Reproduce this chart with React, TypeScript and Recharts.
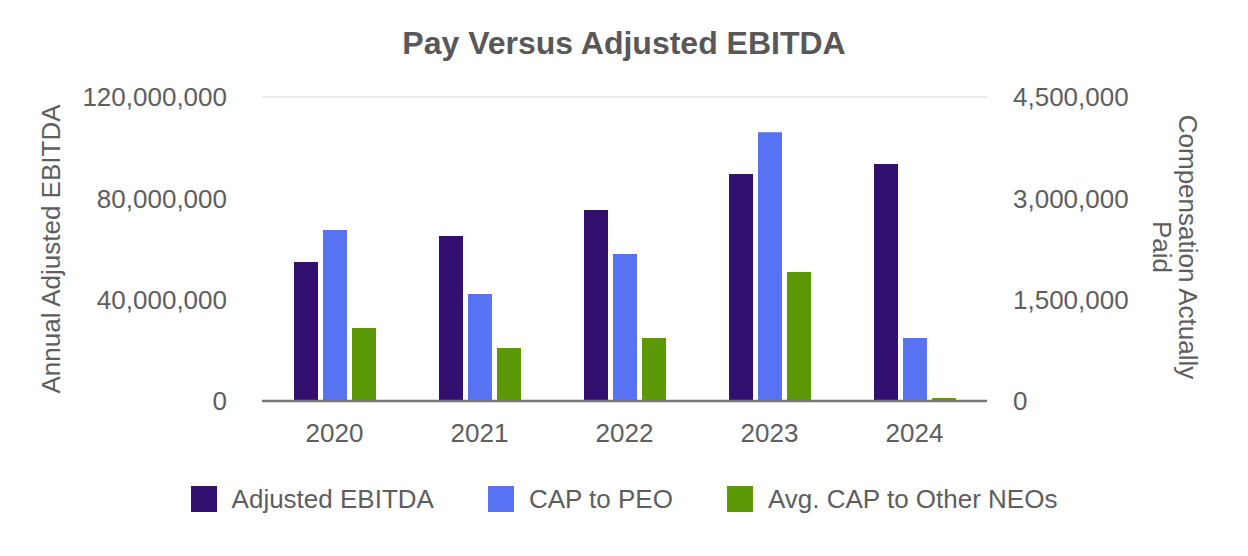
import { Bar, BarChart, CartesianGrid, XAxis, YAxis } from 'recharts'

const years = ['2020', '2021', '2022', '2023', '2024']
const adjustedEbitda = [54900000, 65100000, 75400000, 89600000, 93600000]
const capToPeo = [2530000, 1584000, 2176000, 3980000, 933000]
const avgCapOtherNeos = [1080000, 785000, 933000, 1910000, 44000]

const leftTicks = [0, 40000000, 80000000, 120000000]
const rightTicks = [0, 1500000, 3000000, 4500000]

const series = [
  { key: 'ebitda', name: 'Adjusted EBITDA', color: '#331070', axis: 'left' },
  { key: 'peo', name: 'CAP to PEO', color: '#5773f4', axis: 'right' },
  { key: 'neo', name: 'Avg. CAP to Other NEOs', color: '#5b9907', axis: 'right' },
]

const data = years.map((year, i) => ({
  year,
  ebitda: adjustedEbitda[i],
  peo: capToPeo[i],
  neo: avgCapOtherNeos[i],
}))

const FONT = '"Liberation Sans", Arial, sans-serif'
const TEXT = '#5e5e5e'
const fmt = (v: number) => v.toLocaleString('en-US')

const tickStyle = { fill: TEXT, fontSize: 26, fontFamily: FONT }

function LeftLabel({ viewBox }: { viewBox?: { x: number; y: number; width: number; height: number } }) {
  if (!viewBox) return null
  const cx = 51
  const cy = viewBox.y + viewBox.height / 2
  return (
    <text
      x={cx}
      y={cy}
      transform={`rotate(-90 ${cx} ${cy})`}
      textAnchor="middle"
      dominantBaseline="central"
      fill={TEXT}
      fontSize={26}
      fontFamily={FONT}
    >
      Annual Adjusted EBITDA
    </text>
  )
}

function RightLabel({ viewBox }: { viewBox?: { x: number; y: number; width: number; height: number } }) {
  if (!viewBox) return null
  const cy = viewBox.y + viewBox.height / 2 - 2
  const lines = [
    { x: 1188, text: 'Compensation Actually' },
    { x: 1162, text: 'Paid' },
  ]
  return (
    <g>
      {lines.map((l) => (
        <text
          key={l.text}
          x={l.x}
          y={cy}
          transform={`rotate(90 ${l.x} ${cy})`}
          textAnchor="middle"
          dominantBaseline="central"
          fill={TEXT}
          fontSize={26}
          fontFamily={FONT}
        >
          {l.text}
        </text>
      ))}
    </g>
  )
}

export default function App() {
  return (
    <div style={{ position: 'absolute', left: 0, top: 0, width: 1248, height: 556, background: '#fff', fontFamily: FONT }}>
      <div
        style={{
          position: 'absolute',
          top: 27,
          left: 0,
          width: 1248,
          textAlign: 'center',
          fontSize: 32,
          lineHeight: '32px',
          fontWeight: 'bold',
          color: '#585858',
        }}
      >
        Pay Versus Adjusted EBITDA
      </div>
      <BarChart
        width={1248}
        height={556}
        data={data}
        margin={{ top: 97, right: 0, left: 0, bottom: 95 }}
        barSize={24}
        barGap={5}
      >
        <CartesianGrid stroke="#ebebeb" strokeWidth={2} vertical={false} />
        <XAxis
          dataKey="year"
          height={60}
          tickLine={false}
          tickSize={0}
          tickMargin={23}
          axisLine={{ stroke: '#777', strokeWidth: 2.5 }}
          tick={tickStyle}
        />
        <YAxis
          yAxisId="left"
          orientation="left"
          width={262}
          domain={[0, 120000000]}
          ticks={leftTicks}
          tickFormatter={fmt}
          tickLine={false}
          tickSize={0}
          tickMargin={35}
          axisLine={false}
          tick={tickStyle}
          label={<LeftLabel />}
        />
        <YAxis
          yAxisId="right"
          orientation="right"
          width={261}
          domain={[0, 4500000]}
          ticks={rightTicks}
          tickFormatter={fmt}
          tickLine={false}
          tickSize={0}
          tickMargin={26}
          axisLine={false}
          tick={{ ...tickStyle, textAnchor: 'start' }}
          label={<RightLabel />}
        />
        {series.map((s) => (
          <Bar
            key={s.key}
            dataKey={s.key}
            name={s.name}
            yAxisId={s.axis}
            fill={s.color}
            isAnimationActive={false}
          />
        ))}
      </BarChart>
      <div
        style={{
          position: 'absolute',
          top: 486,
          left: 0,
          width: 1248,
          height: 26,
          display: 'flex',
          justifyContent: 'center',
          alignItems: 'center',
          gap: 54,
          fontSize: 26,
          lineHeight: '26px',
          color: TEXT,
        }}
      >
        {series.map((s) => (
          <div key={s.key} style={{ display: 'flex', alignItems: 'center', gap: 15 }}>
            <span style={{ width: 26, height: 26, background: s.color, display: 'inline-block' }} />
            <span>{s.name}</span>
          </div>
        ))}
      </div>
    </div>
  )
}
